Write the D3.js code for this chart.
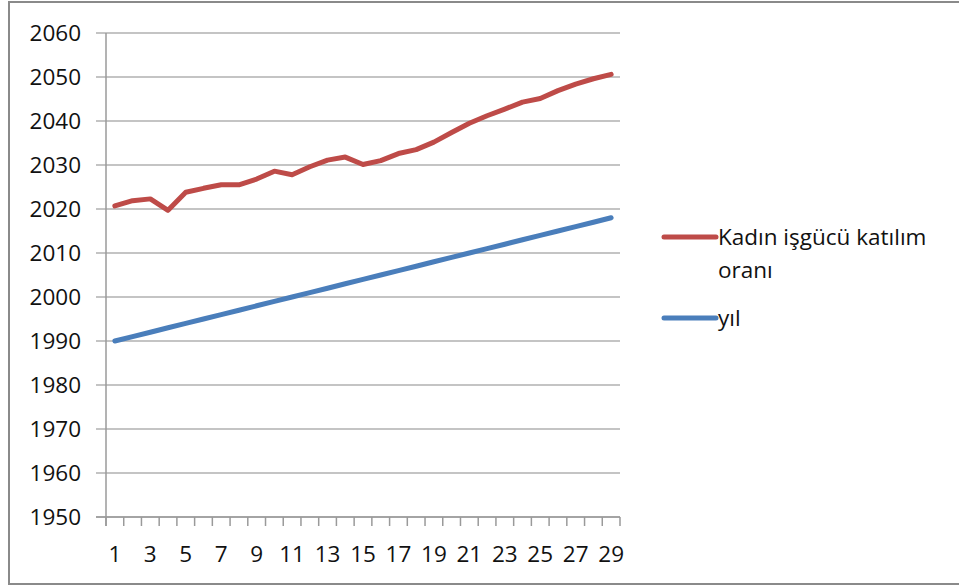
<!DOCTYPE html>
<html>
<head>
<meta charset="utf-8">
<script src="https://cdn.jsdelivr.net/npm/d3@7"></script>
<style>
  body { margin: 0; background: #fff; }
  text { font-family: "Open Sans", "Liberation Sans", sans-serif; fill: #111; }
</style>
</head>
<body>
<div class="chart"></div>
<script>
var svgWidth = 959;
var svgHeight = 586;

// category labels 1..29
var categories = [1,2,3,4,5,6,7,8,9,10,11,12,13,14,15,16,17,18,19,20,21,22,23,24,25,26,27,28,29];
// blue series "yıl"
var yilValues = [1990,1991,1992,1993,1994,1995,1996,1997,1998,1999,2000,2001,2002,2003,2004,2005,2006,2007,2008,2009,2010,2011,2012,2013,2014,2015,2016,2017,2018];
// red series "Kadın işgücü katılım oranı" (as plotted, stacked on yıl)
var kadinValues = [2020.7,2021.9,2022.3,2019.7,2023.8,2024.7,2025.5,2025.5,2026.8,2028.6,2027.8,2029.6,2031.1,2031.8,2030.1,2031.0,2032.6,2033.5,2035.2,2037.4,2039.5,2041.2,2042.7,2044.3,2045.1,2046.9,2048.4,2049.6,2050.6];
var yTicks = [1950,1960,1970,1980,1990,2000,2010,2020,2030,2040,2050,2060];
var xLabelCats = categories.filter(d => d % 2 === 1);

var plot = { left: 106, right: 620, top: 33, bottom: 517 };
var fontSize = "22.5px";

var svg = d3.select(".chart")
  .append("svg")
  .attr("width", svgWidth)
  .attr("height", svgHeight);

// outer frame
svg.append("rect")
  .attr("x", 9)
  .attr("y", 2)
  .attr("width", 960)
  .attr("height", 582)
  .attr("fill", "none")
  .attr("stroke", "#8a8a8a")
  .attr("stroke-width", 2);

var xScale = d3.scaleBand()
  .domain(categories)
  .range([plot.left, plot.right]);

var yScale = d3.scaleLinear()
  .domain([1950, 2060])
  .range([plot.bottom, plot.top]);

// gridlines
svg.append("g")
  .selectAll("line")
  .data(yTicks)
  .enter()
  .append("line")
  .attr("x1", plot.left - 10)
  .attr("x2", plot.right)
  .attr("y1", d => yScale(d))
  .attr("y2", d => yScale(d))
  .attr("stroke", d => d === 1950 ? "#868686" : "#b0b0b0")
  .attr("stroke-width", 1.5);

// y axis line
svg.append("line")
  .attr("x1", plot.left)
  .attr("x2", plot.left)
  .attr("y1", plot.top)
  .attr("y2", plot.bottom + 9)
  .attr("stroke", "#9a9a9a")
  .attr("stroke-width", 1.5);

// y tick labels
svg.append("g")
  .selectAll("text")
  .data(yTicks)
  .enter()
  .append("text")
  .attr("x", 81)
  .attr("y", d => yScale(d) + 8)
  .attr("text-anchor", "end")
  .attr("font-size", fontSize)
  .text(d => d);

// x tick marks at category edges
var edges = d3.range(categories.length + 1).map(i => plot.left + i * xScale.step());
svg.append("g")
  .selectAll("line")
  .data(edges)
  .enter()
  .append("line")
  .attr("x1", d => d)
  .attr("x2", d => d)
  .attr("y1", plot.bottom)
  .attr("y2", plot.bottom + 9)
  .attr("stroke", "#9a9a9a")
  .attr("stroke-width", 1.5);

// x tick labels (every other)
svg.append("g")
  .selectAll("text")
  .data(xLabelCats)
  .enter()
  .append("text")
  .attr("x", d => xScale(d) + xScale.bandwidth() / 2)
  .attr("y", 562)
  .attr("text-anchor", "middle")
  .attr("font-size", fontSize)
  .text(d => d);

var line = d3.line()
  .x((d, i) => xScale(categories[i]) + xScale.bandwidth() / 2)
  .y(d => yScale(d));

svg.append("path")
  .datum(yilValues)
  .attr("d", line)
  .attr("fill", "none")
  .attr("stroke", "#4a7ebb")
  .attr("stroke-width", 5)
  .attr("stroke-linejoin", "round")
  .attr("stroke-linecap", "round");

svg.append("path")
  .datum(kadinValues)
  .attr("d", line)
  .attr("fill", "none")
  .attr("stroke", "#be4b48")
  .attr("stroke-width", 5)
  .attr("stroke-linejoin", "round")
  .attr("stroke-linecap", "round");

// legend
var legend = svg.append("g");
legend.append("line")
  .attr("x1", 664).attr("x2", 716)
  .attr("y1", 237).attr("y2", 237)
  .attr("stroke", "#be4b48").attr("stroke-width", 5)
  .attr("stroke-linecap", "round");
legend.append("text")
  .attr("x", 718).attr("y", 245)
  .attr("font-size", fontSize)
  .text("Kadın işgücü katılım");
legend.append("text")
  .attr("x", 718).attr("y", 278)
  .attr("font-size", fontSize)
  .text("oranı");
legend.append("line")
  .attr("x1", 664).attr("x2", 716)
  .attr("y1", 318).attr("y2", 318)
  .attr("stroke", "#4a7ebb").attr("stroke-width", 5)
  .attr("stroke-linecap", "round");
legend.append("text")
  .attr("x", 718).attr("y", 326)
  .attr("font-size", fontSize)
  .text("yıl");
</script>
</body>
</html>
